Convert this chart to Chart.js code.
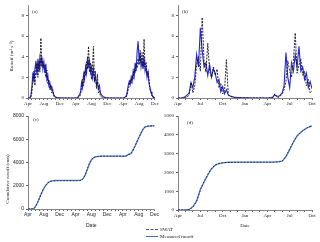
<!DOCTYPE html>
<html>
<head>
<meta charset="utf-8">
<script src="https://cdn.jsdelivr.net/npm/chart.js@4.4.1/dist/chart.umd.min.js"></script>
<style>
  body { margin:0; width:320px; height:242px; background:#fff; position:relative; overflow:hidden; font-family:"Liberation Serif", serif; color:#222; }
  .box { position:absolute; }
  .lab { position:absolute; font-size:5px; line-height:1; white-space:nowrap; }
  .ytitle { position:absolute; font-size:5px; line-height:1; white-space:nowrap; transform:translate(-50%,-50%) rotate(-90deg); }
  .key { position:absolute; left:146px; width:12px; height:0; }
</style>
</head>
<body>
<div class="box" style="left:0;top:0"><canvas id="chartA" width="160" height="110"></canvas></div>
<div class="box" style="left:160px;top:0"><canvas id="chartB" width="160" height="110"></canvas></div>
<div class="box" style="left:0;top:110px"><canvas id="chartC" width="160" height="132"></canvas></div>
<div class="box" style="left:160px;top:110px"><canvas id="chartD" width="160" height="132"></canvas></div>

<div class="lab" style="left:32px;top:9px">(a)</div>
<div class="lab" style="left:182px;top:9px">(b)</div>
<div class="lab" style="left:33px;top:117px">(c)</div>
<div class="lab" style="left:187px;top:120px">(d)</div>
<div class="ytitle" style="left:11px;top:56px">Runoff (m³ s⁻¹)</div>
<div class="ytitle" style="left:7px;top:179px">Cumulative runoff (mm)</div>

<div class="key" style="top:229px;border-top:1px dashed #555"></div>
<div class="lab" style="left:160px;top:226.5px">SWAT</div>
<div class="key" style="top:236px;border-top:1px solid #4472c4"></div>
<div class="lab" style="left:160px;top:233.5px">Measured runoff</div>

<script>
// month names, axis starts in April
const months = ['Apr', 'May', 'Jun', 'Jul', 'Aug', 'Sep', 'Oct', 'Nov', 'Dec', 'Jan', 'Feb', 'Mar'];

// (a) runoff, one value every quarter month, Apr year 1 to Dec year 3
const runoffA_measured = [
  0, 0, 0, 0.3, 1.2, 2.5, 1.5, 2.8,
  3.6, 2.2, 3.8, 2.6, 3.9, 3.2, 4.0, 2.8,
  3.5, 2.4, 3.3, 1.8, 2.2, 1.2, 1.5, 0.9,
  1.1, 0.6, 0.3, 0.15, 0.1, 0.05, 0.03, 0.02,
  0.02, 0.01, 0, 0, 0, 0, 0, 0,
  0, 0, 0, 0, 0, 0, 0, 0,
  0, 0, 0.05, 0.2, 0.3, 0.6, 1.5, 1.0,
  2.3, 1.8, 3.0, 2.4, 4.0, 3.1, 3.6, 2.5,
  3.0, 2.0, 2.8, 1.7, 2.0, 1.3, 1.5, 0.9,
  1.2, 0.5, 0.3, 0.2, 0.1, 0.1, 0.05, 0.03,
  0.02, 0.01, 0, 0, 0, 0, 0, 0,
  0, 0, 0, 0, 0, 0, 0, 0,
  0, 0.02, 0.1, 0.2, 0.6, 1.2, 1.6, 1.3,
  2.0, 1.6, 2.6, 2.1, 3.4, 2.6, 4.5, 5.5,
  3.6, 4.2, 3.0, 3.6, 2.8, 4.0, 2.6, 3.0,
  2.0, 2.5, 1.4, 1.0, 0.6, 0.3, 0.15, 0.05,
  0
];
const runoffA_swat = [
  0, 0, 0, 0.1, 0.6, 1.8, 2.6, 1.2,
  2.9, 3.4, 2.0, 3.6, 2.5, 5.8, 3.0, 3.6,
  2.9, 3.2, 2.0, 2.7, 1.4, 1.8, 0.8, 1.3,
  0.5, 0.8, 0.2, 0.05, 0.02, 0, 0, 0,
  0, 0, 0, 0, 0, 0, 0, 0,
  0, 0, 0, 0, 0, 0, 0, 0,
  0, 0, 0, 0.1, 0.1, 0.4, 0.9, 1.8,
  1.2, 2.6, 2.2, 3.5, 2.8, 5.0, 2.5, 3.4,
  1.8, 3.0, 5.0, 1.6, 2.6, 0.9, 2.3, 0.5,
  0.7, 0.2, 0.1, 0.05, 0.02, 0, 0, 0,
  0, 0, 0, 0, 0, 0, 0, 0,
  0, 0, 0, 0, 0, 0, 0, 0,
  0, 0, 0.05, 0.1, 0.3, 0.8, 1.2, 1.8,
  1.4, 2.2, 1.8, 2.8, 2.4, 3.3, 2.9, 3.8,
  3.2, 4.6, 3.4, 4.4, 3.0, 5.7, 3.0, 3.5,
  2.2, 2.6, 1.8, 0.8, 0.5, 0.2, 0.1, 0,
  0
];

// (b) runoff, quarter-month values, Apr year 1 to Oct year 2
const runoffB_measured = [
  0, 0, 0, 0.05, 0.15, 0.3, 0.5, 1.5,
  1.0, 2.0, 4.2, 3.0, 6.8, 4.6, 3.0, 3.4,
  2.2, 3.2, 2.0, 2.8, 2.4, 1.5, 1.8, 0.6,
  1.1, 0.4, 0.8, 0.3, 0.2, 0.15, 0.1, 0.08,
  0.05, 0.04, 0.03, 0.02, 0.02, 0.01, 0.01, 0,
  0, 0, 0, 0, 0, 0, 0, 0,
  0, 0.02, 0.05, 0.1, 0.3, 0.2, 0.15, 0.3,
  0.5, 1.2, 4.4, 2.0, 1.0, 3.4, 2.6, 4.2,
  3.0, 5.0, 2.6, 3.0, 1.8, 2.4, 1.0, 1.6,
  0.9
];
const runoffB_swat = [
  0, 0, 0, 0, 0.05, 0.1, 0.3, 1.5,
  0.5, 1.2, 3.2, 4.0, 2.6, 7.8, 3.6, 2.5,
  5.3, 2.6, 2.0, 3.0, 2.2, 2.8, 1.0, 1.4,
  0.4, 0.7, 3.7, 0.3, 0.2, 0.1, 0.05, 0.03,
  0.02, 0.01, 0, 0, 0, 0, 0, 0,
  0, 0, 0, 0, 0, 0, 0, 0,
  0, 0, 0, 0.05, 0.4, 0.1, 0.05, 0.2,
  0.4, 0.8, 1.6, 3.6, 2.6, 2.0, 3.6, 6.3,
  2.4, 3.2, 3.8, 2.2, 2.6, 1.2, 1.8, 0.5,
  0.7
];

// (c) cumulative runoff (mm), half-month values
const cumC_measured = [
  0, 0, 0, 30, 300, 600, 1050, 1420,
  1750, 2030, 2230, 2350, 2410, 2440, 2450, 2455,
  2460, 2460, 2460, 2460, 2460, 2460, 2460, 2460, 2460, 2460,
  2470, 2500, 2650, 2950, 3400, 3850, 4180, 4380, 4470, 4510, 4530, 4540,
  4545, 4545, 4545, 4545, 4545, 4545, 4545, 4545, 4545, 4545, 4545,
  4560, 4600, 4720, 4760, 5060, 5370, 5730, 6100,
  6450, 6800, 7020, 7100, 7130, 7140, 7145, 7150
];
const cumC_swat = [
  0, 0, 0, 20, 260, 620, 1000, 1450,
  1780, 2050, 2250, 2360, 2400, 2420, 2425, 2428,
  2430, 2430, 2430, 2430, 2430, 2430, 2430, 2430, 2430, 2430,
  2440, 2480, 2620, 2980, 3450, 3900, 4250, 4420, 4490, 4520, 4535, 4540,
  4540, 4540, 4540, 4540, 4540, 4540, 4540, 4540, 4540, 4540, 4540,
  4550, 4580, 4700, 4740, 5000, 5350, 5760, 6150,
  6500, 6830, 7040, 7110, 7140, 7150, 7155, 7160
];

// (d) cumulative runoff (mm), half-month values
const cumD_measured = [
  0, 0, 5, 30, 180, 500, 1100, 1480,
  1850, 2180, 2380, 2470, 2510, 2530, 2540, 2545,
  2550, 2550, 2550, 2550, 2550, 2550, 2550, 2550, 2550, 2550,
  2555, 2570, 2600, 2830, 3200, 3600, 3950, 4150, 4290, 4400, 4470
];
const cumD_swat = [
  0, 0, 0, 20, 150, 450, 1050, 1520,
  1900, 2220, 2400, 2480, 2510, 2525, 2530, 2535,
  2540, 2540, 2540, 2540, 2540, 2540, 2540, 2540, 2540, 2540,
  2545, 2560, 2600, 2850, 3250, 3620, 3920, 4130, 4280, 4410, 4480
];

function toPoints(values, step) {
  return values.map((v, i) => ({ x: i * step, y: v }));
}

function makeChart(id, cfg) {
  const tickFont = { size: 5, family: cfg.font };
  new Chart(document.getElementById(id), {
    type: 'line',
    data: {
      datasets: [{
        label: 'SWAT',
        data: toPoints(cfg.swat, cfg.step),
        borderColor: cfg.swatColor,
        borderWidth: cfg.swatWidth,
        borderDash: [2, 1.2],
        pointRadius: 0,
        order: 0
      }, {
        label: 'Measured runoff',
        data: toPoints(cfg.measured, cfg.step),
        borderColor: cfg.measColor,
        borderWidth: cfg.measWidth,
        pointRadius: 0,
        order: 1
      }]
    },
    options: {
      responsive: false,
      animation: false,
      devicePixelRatio: 1,
      layout: { padding: cfg.padding },
      plugins: { legend: { display: false }, tooltip: { enabled: false } },
      scales: {
        x: {
          type: 'linear',
          min: 0,
          max: cfg.xMax,
          border: { color: '#666', width: 0.8 },
          grid: { drawOnChartArea: false, tickLength: 2, color: '#666' },
          ticks: {
            stepSize: 1,
            autoSkip: false,
            maxRotation: 0,
            padding: 1,
            color: '#222',
            font: tickFont,
            callback: v => (v % cfg.labelEvery === 0 ? months[v % 12] : '')
          },
          title: cfg.xTitle ? {
            display: true, text: 'Date', color: '#222',
            font: { size: 5, family: cfg.font }, padding: { top: 0, bottom: 13 }
          } : { display: false },
          afterFit: s => { s.height = cfg.xHeight; }
        },
        y: {
          min: 0,
          max: cfg.yMax,
          border: { color: '#666', width: 0.8 },
          grid: { drawOnChartArea: false, tickLength: 2, color: '#666' },
          ticks: { stepSize: cfg.yStep, padding: 2, color: '#222', font: tickFont, callback: v => String(v) },
          afterBuildTicks: s => { s.ticks = s.ticks.filter(t => t.value % cfg.yStep === 0); },
          afterFit: s => { s.width = cfg.yWidth; }
        }
      }
    }
  });
}

makeChart('chartA', {
  measured: runoffA_measured, swat: runoffA_swat, step: 0.25,
  xMax: 32, labelEvery: 4, yMax: 9, yStep: 2, yWidth: 28, xHeight: 12,
  padding: { top: 4, right: 4, left: 0, bottom: 0 },
  measColor: '#2626d4', measWidth: 1.1, swatColor: '#111', swatWidth: 0.9, font: 'Liberation Serif'
});
makeChart('chartB', {
  measured: runoffB_measured, swat: runoffB_swat, step: 0.25,
  xMax: 18, labelEvery: 3, yMax: 9, yStep: 2, yWidth: 18, xHeight: 12,
  padding: { top: 4, right: 8, left: 0, bottom: 0 },
  measColor: '#2626d4', measWidth: 1.1, swatColor: '#111', swatWidth: 0.9, font: 'Liberation Serif'
});
makeChart('chartC', {
  measured: cumC_measured, swat: cumC_swat, step: 0.5,
  xMax: 32, labelEvery: 4, yMax: 8000, yStep: 2000, yWidth: 28, xHeight: 33, xTitle: true,
  padding: { top: 6, right: 3, left: 0, bottom: 0 },
  measColor: '#5b8fdc', measWidth: 1.3, swatColor: '#1c2b55', swatWidth: 1, font: 'Liberation Sans'
});
makeChart('chartD', {
  measured: cumD_measured, swat: cumD_swat, step: 0.5,
  xMax: 18, labelEvery: 3, yMax: 5000, yStep: 1000, yWidth: 18, xHeight: 32, xTitle: true,
  padding: { top: 6, right: 8, left: 0, bottom: 0 },
  measColor: '#5b8fdc', measWidth: 1.3, swatColor: '#1c2b55', swatWidth: 1, font: 'Liberation Serif'
});
</script>
</body>
</html>
